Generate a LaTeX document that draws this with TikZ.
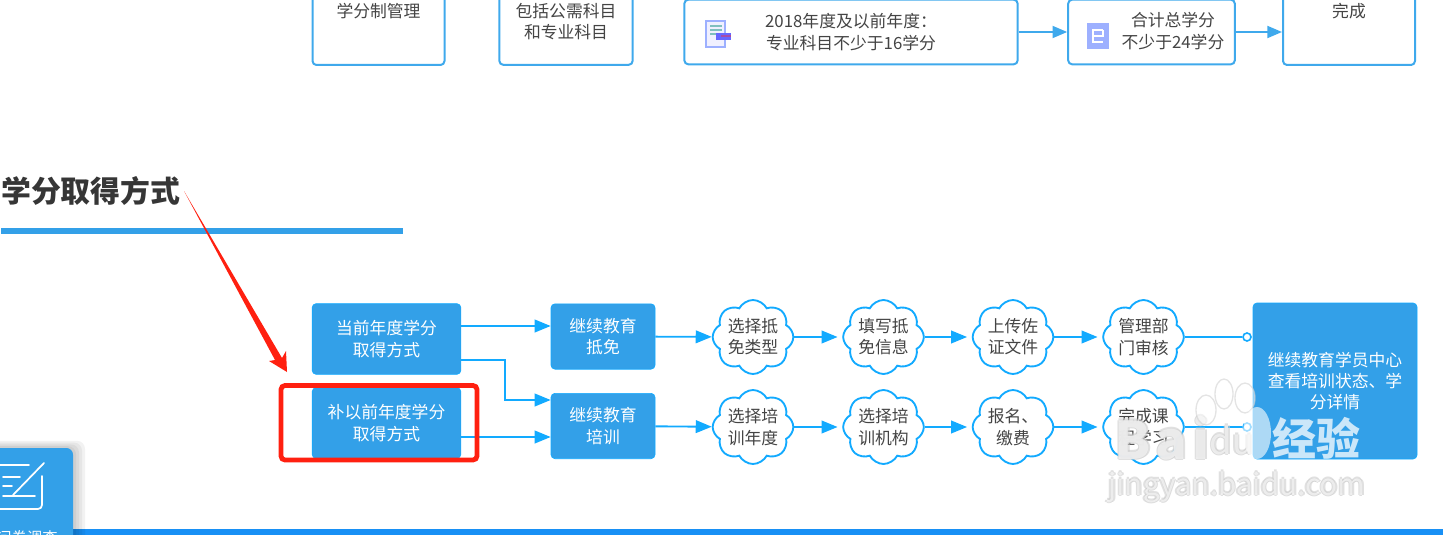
\documentclass[tikz,border=0pt]{standalone}
\usepackage{fontspec}
\setmainfont{Noto Sans CJK SC}
\usetikzlibrary{arrows.meta,shapes.symbols}
\definecolor{panelblue}{HTML}{33A0E8}
\definecolor{edgeblue}{HTML}{12AAFF}
\definecolor{topedge}{HTML}{3FA9EC}
\definecolor{barblue}{HTML}{1890F5}
\definecolor{inkgray}{HTML}{444444}
\definecolor{markred}{HTML}{FF2010}
\definecolor{iconblue}{HTML}{9DB0FF}
\tikzset{
  bodytext/.style={font=\fontsize{12.6}{15.9}\selectfont,align=center,inner sep=0pt},
  topbox/.style={bodytext,draw=topedge,line width=1.5pt,rounded corners=3pt,fill=white,text=inkgray},
  bluebox/.style={bodytext,draw=edgeblue,line width=.5pt,rounded corners=3pt,fill=panelblue,text=white},
  puff/.style={bodytext,cloud,cloud puffs=8,cloud puff arc=125,aspect=1.1,draw=edgeblue,line width=1.4pt,
    fill=white,text=inkgray,inner sep=-6pt,minimum width=60.5pt,minimum height=55.5pt},
  flow/.style={draw=edgeblue,line width=1.4pt,-{Triangle[length=12pt,width=9.5pt]}},
  gapflow/.style={flow,shorten >=3.5pt},
  topflow/.style={draw=topedge,line width=1.4pt,-{Triangle[length=11pt,width=9pt]}},
  endmark/.style={circle,draw=edgeblue,line width=1.2pt,fill=white,minimum size=6pt,inner sep=0pt},
  wmbig/.style={font=\fontsize{39}{39}\selectfont\bfseries\addfontfeature{LetterSpace=10},inner sep=0pt},
  wmdu/.style={font=\fontsize{27}{27}\selectfont,inner sep=0pt},
  wmurl/.style={font=\fontsize{22.3}{24}\selectfont,inner sep=0pt},
}
\begin{document}
\begin{tikzpicture}[x=0.75pt,y=-0.75pt]
  \useasboundingbox (0,0) rectangle (1443,535);
  \clip (0,0) rectangle (1443,535);
  % top row, cut by the page edge
  \node[topbox,minimum width=99pt,minimum height=81pt] (glgl) at (378.5,11) {学分制管理};
  \node[topbox,minimum width=100pt,minimum height=65pt] (kmfw) at (566,21.5) {包括公需科目\\和专业科目};
  \node[topbox,minimum width=250pt,minimum height=48.5pt] (zykm) at (851,32) {2018年度及以前年度：\\专业科目不少于16学分};
  \node[topbox,minimum width=125pt,minimum height=48.5pt] (hjxf) at (1151.5,32) {};
  \node[bodytext,text=inkgray] (hjxfw) at (1173,31) {合计总学分\\不少于24学分};
  \node[topbox,minimum width=99pt,minimum height=81pt] (wc) at (1349,11) {完成};
  \draw[topflow] (zykm.east) -- (zykm.east -| hjxf.west);
  \draw[topflow] (hjxf.east) -- (hjxf.east -| wc.west);
  % icons in the top row
  \draw[iconblue,fill=blue!6,line width=.8pt] (706,21) rectangle (725,47);
  \draw[teal!50,line width=1pt] (710,26) -- (722,26);
  \draw[teal!50,line width=1pt] (710,30) -- (722,30);
  \draw[teal!50,line width=1pt] (710,34) -- (722,34);
  \fill[blue!60] (716,33) rectangle (731,40);
  \fill[violet!70] (721,35) rectangle (731,37.5);
  \fill[iconblue] (1087,23) rectangle (1109,49);
  \draw[white,line width=1.2pt] (1103,30) -- (1093,30) -- (1093,42) -- (1103,42);
  \draw[white,line width=1.2pt] (1093,36) -- (1103,36) -- (1103,30);
  % heading
  \node[anchor=west,inner sep=0pt,text=inkgray!80!black,font=\fontsize{22.4}{26}\selectfont\bfseries] (bt) at (1,191) {学分取得方式};
  \fill[panelblue] (1,228) rectangle (403,234);
  % lower flow
  \node[bluebox,minimum width=111.5pt,minimum height=53pt] (dqxf) at (386.5,339) {当前年度学分\\取得方式};
  \node[bluebox,minimum width=111.5pt,minimum height=53pt] (bxf) at (386.5,423) {补以前年度学分\\取得方式};
  \node[bluebox,minimum width=78pt,minimum height=49pt] (dm) at (603,336.5) {继续教育\\抵免};
  \node[bluebox,minimum width=78pt,minimum height=49pt] (px) at (603,426) {继续教育\\培训};
  \node[puff] (dma) at (753,337) {选择抵\\免类型};
  \node[puff] (dmb) at (883.5,337) {填写抵\\免信息};
  \node[puff] (dmc) at (1013,337) {上传佐\\证文件};
  \node[puff] (dmd) at (1143.5,337) {管理部\\门审核};
  \node[puff] (pxa) at (753,427) {选择培\\训年度};
  \node[puff] (pxb) at (883.5,427) {选择培\\训机构};
  \node[puff] (pxc) at (1013,427) {报名、\\缴费};
  \node[puff] (pxd) at (1143.5,427) {完成课\\程学习};
  \node[bluebox,minimum width=123pt,minimum height=117pt] (zx) at (1335,381) {继续教育学员中心\\查看培训状态、学\\分详情};
  \node[endmark] (ea) at (1247,337) {};
  \node[endmark] (eb) at (1247,427) {};
  \draw[flow] ([yshift=9.75pt]dqxf.east) -- ([yshift=9.75pt]dqxf.east -| dm.west);
  \draw[flow] ([yshift=-15.75pt]dqxf.east) -| (505,400) -- (dm.west |- 0,400);
  \draw[flow] ([yshift=-10.5pt]bxf.east) -- ([yshift=-10.5pt]bxf.east -| px.west);
  \draw[flow] (dm) -- (dma);
  \draw[gapflow] (dma) -- (dmb);
  \draw[gapflow] (dmb) -- (dmc);
  \draw[gapflow] (dmc) -- (dmd);
  \draw[edgeblue,line width=1.4pt] (dmd) -- (ea);
  \draw[flow] (px) -- (pxa);
  \draw[gapflow] (pxa) -- (pxb);
  \draw[gapflow] (pxb) -- (pxc);
  \draw[gapflow] (pxc) -- (pxd);
  \draw[edgeblue,line width=1.4pt] (pxd) -- (eb);
  % red marks
  \draw[markred,line width=3.6pt,rounded corners=3pt] (281,385.5) rectangle (477,460);
  \fill[markred] (184,191) -- (282,358) -- (286,351) -- (287,372) -- (269,361) -- (275,360) -- cycle;
  % side panel and bottom bar
  \fill[barblue] (0,529) rectangle (1443,535);
  \foreach \s in {12,9,6,3}
    \fill[black,opacity=.05,rounded corners=6pt] (-10,448-\s*.6) rectangle (73+\s,545);
  \fill[panelblue,rounded corners=5pt] (-10,448) rectangle (73,545);
  \draw[white,line width=1.3pt,line cap=round] (0,465) -- (29,465);
  \draw[white,line width=1.3pt,line cap=round] (3,477) -- (20,477);
  \draw[white,line width=1.3pt,line cap=round] (3,486) -- (12,486);
  \draw[white,line width=1.3pt,line cap=round] (3,496) -- (35,496);
  \draw[white,line width=1.3pt,line cap=round] (44,463) -- (13,495);
  \draw[white,line width=1.3pt,line cap=round,rounded corners=3pt] (42,476) -- (42,509) -- (0,509);
  \node[text=white,font=\fontsize{11.5}{14}\selectfont,inner sep=0pt] (wj) at (27,538) {问卷调查};
  % watermark
  \begin{scope}[opacity=.6]
    \foreach \dx/\dy in {-1.6/0,1.6/0,0/-1.6,0/1.6}{
      \node[wmbig,text=gray!40] at (1162+\dx,438+\dy) {Bai};
      \node[wmdu,text=gray!40] at (1232+\dx,440+\dy) {du};
      \node[wmurl,text=gray!40] at (1237+\dx,487+\dy) {jingyan.baidu.com};
    }
    \node[wmbig,text=white] (wma) at (1162,438) {Bai};
    \node[wmdu,text=white] (wmb) at (1232,440) {du};
    \node[wmurl,text=white] (wmc) at (1237,487) {jingyan.baidu.com};
    \draw[gray!35,line width=1pt,fill=white,fill opacity=.5] (1206,410) ellipse (10 and 15);
    \draw[gray!35,line width=1pt,fill=white,fill opacity=.5] (1224,394) ellipse (9 and 15);
    \draw[gray!35,line width=1pt,fill=white,fill opacity=.5] (1245,398) ellipse (10 and 15);
    \fill[white] (1257,433) ellipse (14 and 26);
  \end{scope}
  \node[text=white,opacity=.75,font=\fontsize{33}{33}\selectfont\bfseries,inner sep=0pt] (wmd) at (1316,438) {经验};
\end{tikzpicture}
\end{document}
